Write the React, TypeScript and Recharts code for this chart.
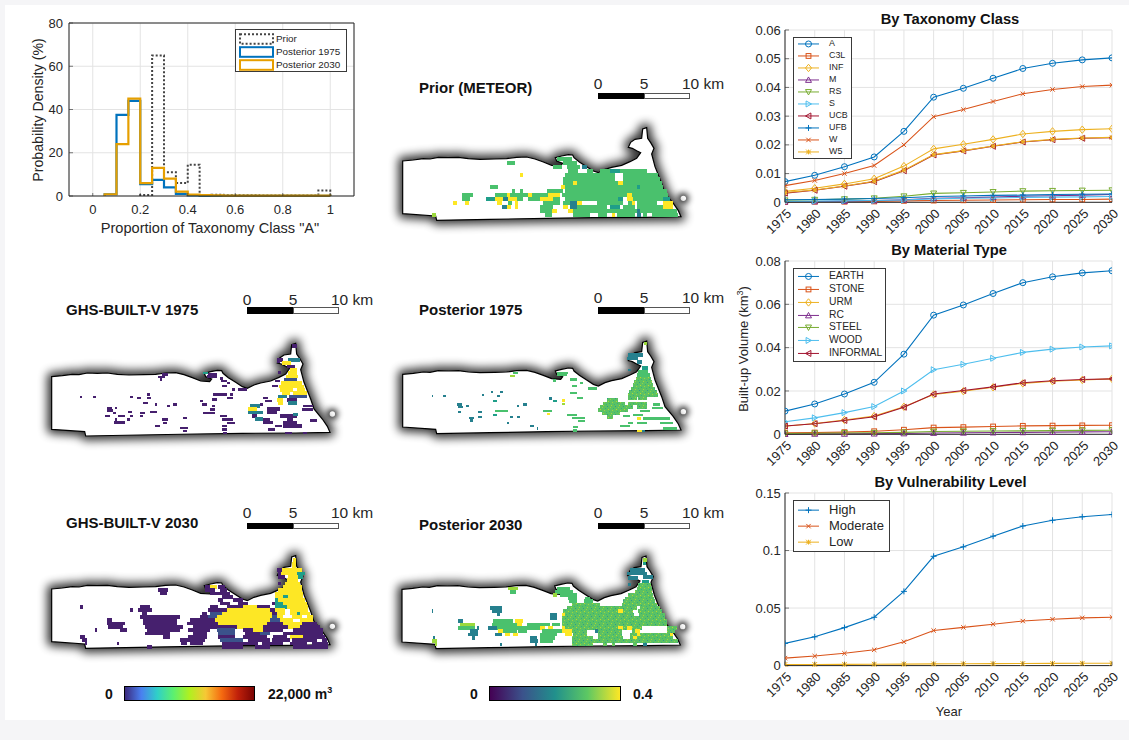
import React from 'react'
import {
  CartesianGrid,
  Line,
  LineChart,
  ReferenceLine,
  Scatter,
  ScatterChart,
  XAxis,
  YAxis,
} from 'recharts'

const FONT = '"Liberation Sans", Arial, sans-serif'
const INK = '#262626'
const GRID = '#e3e3e3'
const BLUE = '#0072BD'
const ORANGE = '#D95319'
const GOLD = '#EDB120'
const PURPLE = '#7E2F8E'
const GREEN = '#77AC30'
const SKY = '#4DBEEE'
const CRIMSON = '#A2142F'

// ---- line chart data
const years = [1975, 1980, 1985, 1990, 1995, 2000, 2005, 2010, 2015, 2020, 2025, 2030]

const taxA = [0.0072, 0.0094, 0.0124, 0.0158, 0.0247, 0.0366, 0.0397, 0.0432, 0.0466, 0.0484, 0.0496, 0.0503]
const taxC3L = [0.0001, 0.0002, 0.0002, 0.0003, 0.0005, 0.0006, 0.0007, 0.0008, 0.0009, 0.001, 0.001, 0.0011]
const taxINF = [0.0038, 0.0049, 0.0064, 0.0082, 0.0126, 0.0186, 0.0202, 0.0219, 0.0238, 0.0247, 0.0253, 0.0256]
const taxM = [0.0002, 0.0003, 0.0004, 0.0006, 0.0009, 0.0014, 0.0016, 0.0018, 0.0021, 0.0023, 0.0025, 0.0027]
const taxRS = [0.0007, 0.0009, 0.0011, 0.0014, 0.0021, 0.0031, 0.0033, 0.0036, 0.0039, 0.004, 0.0041, 0.0042]
const taxS = [0.0003, 0.0004, 0.0005, 0.0006, 0.0008, 0.0012, 0.0014, 0.0015, 0.0017, 0.0018, 0.0019, 0.002]
const taxUCB = [0.0032, 0.0042, 0.0056, 0.0072, 0.011, 0.0165, 0.0179, 0.0195, 0.021, 0.0218, 0.0223, 0.0225]
const taxUFB = [0.0009, 0.001, 0.0011, 0.0013, 0.0016, 0.002, 0.0022, 0.0024, 0.0025, 0.0027, 0.0028, 0.0029]
const taxW = [0.0058, 0.0076, 0.01, 0.0128, 0.02, 0.0298, 0.0323, 0.0351, 0.0378, 0.0393, 0.0403, 0.0408]
const taxW5 = [0.0034, 0.0043, 0.0057, 0.0073, 0.0112, 0.0166, 0.018, 0.0196, 0.0211, 0.0219, 0.0224, 0.0226]

const matEarth = [0.0107, 0.014, 0.0186, 0.024, 0.037, 0.055, 0.0597, 0.065, 0.07, 0.0727, 0.0745, 0.0755]
const matStone = [0.0007, 0.0008, 0.001, 0.0014, 0.0021, 0.0031, 0.0033, 0.0036, 0.0039, 0.004, 0.0041, 0.0042]
const matURM = [0.0037, 0.005, 0.0066, 0.0084, 0.0127, 0.0184, 0.0199, 0.0217, 0.0235, 0.0245, 0.0251, 0.0256]
const matRC = [0.0001, 0.0002, 0.0002, 0.0003, 0.0004, 0.0006, 0.0007, 0.0008, 0.0009, 0.001, 0.0011, 0.0012]
const matSteel = [0.0004, 0.0005, 0.0006, 0.0007, 0.0009, 0.0013, 0.0014, 0.0015, 0.0016, 0.0017, 0.0018, 0.0019]
const matWood = [0.0058, 0.0076, 0.01, 0.0128, 0.02, 0.0298, 0.0323, 0.0351, 0.0378, 0.0393, 0.0403, 0.0408]
const matInformal = [0.0038, 0.0049, 0.0064, 0.0081, 0.0125, 0.0186, 0.0202, 0.0219, 0.0238, 0.0247, 0.0253, 0.0256]

const vulnHigh = [0.0193, 0.025, 0.033, 0.042, 0.0645, 0.095, 0.1032, 0.1125, 0.1213, 0.1263, 0.1293, 0.1313]
const vulnModerate = [0.0065, 0.0083, 0.0107, 0.0137, 0.0207, 0.0305, 0.0332, 0.036, 0.0387, 0.0403, 0.0415, 0.042]
const vulnLow = [0.001, 0.001, 0.0011, 0.0012, 0.0013, 0.0015, 0.0016, 0.0017, 0.0018, 0.0019, 0.002, 0.0021]

const taxTicks = [0, 0.01, 0.02, 0.03, 0.04, 0.05, 0.06]
const matTicks = [0, 0.02, 0.04, 0.06, 0.08]
const vulnTicks = [0, 0.05, 0.1, 0.15]

type SeriesDef = { name: string; values: number[]; color: string; marker: string; size?: number }

const taxSeries: SeriesDef[] = [
  { name: 'A', values: taxA, color: BLUE, marker: 'circle' },
  { name: 'C3L', values: taxC3L, color: ORANGE, marker: 'square', size: 2.4 },
  { name: 'INF', values: taxINF, color: GOLD, marker: 'diamond' },
  { name: 'M', values: taxM, color: PURPLE, marker: 'up' },
  { name: 'RS', values: taxRS, color: GREEN, marker: 'down' },
  { name: 'S', values: taxS, color: SKY, marker: 'right' },
  { name: 'UCB', values: taxUCB, color: CRIMSON, marker: 'left' },
  { name: 'UFB', values: taxUFB, color: BLUE, marker: 'plus' },
  { name: 'W', values: taxW, color: ORANGE, marker: 'cross', size: 2.2 },
  { name: 'W5', values: taxW5, color: GOLD, marker: 'star', size: 2.4 },
]

const matSeries: SeriesDef[] = [
  { name: 'EARTH', values: matEarth, color: BLUE, marker: 'circle' },
  { name: 'STONE', values: matStone, color: ORANGE, marker: 'square', size: 2.4 },
  { name: 'URM', values: matURM, color: GOLD, marker: 'diamond' },
  { name: 'RC', values: matRC, color: PURPLE, marker: 'up' },
  { name: 'STEEL', values: matSteel, color: GREEN, marker: 'down' },
  { name: 'WOOD', values: matWood, color: SKY, marker: 'right' },
  { name: 'INFORMAL', values: matInformal, color: CRIMSON, marker: 'left' },
]

const vulnSeries: SeriesDef[] = [
  { name: 'High', values: vulnHigh, color: BLUE, marker: 'plus' },
  { name: 'Moderate', values: vulnModerate, color: ORANGE, marker: 'cross', size: 2.2 },
  { name: 'Low', values: vulnLow, color: GOLD, marker: 'star', size: 2.4 },
]

// ---- histogram data (one value per 0.05 wide bin, starting at binStart)
const priorStart = 0.2
const priorBins = [0.5, 65, 11, 6, 14.5, 0.5, 0.6, 0.4, 0.3, 0.3, 0.2, 0.2, 0.2, 0.2, 0.2, 2.5]
const post1975Start = 0.05
const post1975Bins = [0.8, 37.5, 44, 5.5, 7.5, 4, 1, 0.3, 0.1, 0.05, 0.05, 0.05, 0.05, 0.05, 0.05, 0.05, 0.05, 0.05, 0.05]
const post2030Start = 0.05
const post2030Bins = [0.8, 24, 45, 6, 13, 8, 2, 0.6, 0.4, 0.3, 0.2, 0.2, 0.2, 0.2, 0.2, 0.2, 0.2, 0.2, 0.2]
const histXTicks = [0, 0.2, 0.4, 0.6, 0.8, 1]
const histYTicks = [0, 20, 40, 60, 80]

// ---- map data, in units of 1/3 pixel, measured inside each map's frame
const coastline = [
  [68, 303], [100, 300], [130, 296], [150, 297], [175, 292], [205, 293], [235, 292], [265, 296], [300, 298],
  [345, 297], [380, 296], [410, 292], [440, 291], [465, 297], [490, 306], [515, 316], [542, 318], [548, 310],
  [530, 303], [526, 293], [545, 288], [565, 284], [578, 285], [582, 293], [598, 306], [620, 320], [640, 333],
  [655, 338], [675, 328], [695, 322], [725, 316], [750, 305], [770, 295], [782, 278], [770, 272], [757, 265],
  [745, 262], [752, 247], [765, 238], [785, 235], [788, 207], [800, 203], [803, 235], [812, 248], [822, 265],
  [815, 282], [825, 320], [845, 370], [855, 400], [880, 430], [895, 452], [903, 470], [800, 472], [640, 473],
  [500, 475], [330, 478], [170, 481], [167, 468], [68, 461], [68, 303],
]
const islet = [910, 415]

const shades: Record<string, string> = {
  P: '#46206e',
  B: '#3b528b',
  T: '#26808e',
  D: '#1f9e89',
  G: '#4ac16d',
  L: '#9bd93c',
  Y: '#fde725',
  W: '#ffffff',
  N: 'url(#speckle)',
}

type Span = [number, number, number, string]

const priorCells: Span[] = [
  [290, 530, 575, 'G'],
  [302, 382, 405, 'G'], [302, 550, 590, 'G'],
  [314, 520, 545, 'G'], [314, 560, 600, 'G'], [314, 605, 620, 'T'],
  [326, 565, 595, 'G'], [326, 620, 640, 'G'], [326, 660, 690, 'G'], [326, 690, 720, 'D'], [326, 720, 800, 'G'],
  [338, 420, 430, 'Y'], [338, 555, 705, 'G'], [338, 730, 835, 'G'],
  [350, 550, 705, 'G'], [350, 730, 840, 'G'],
  [362, 550, 578, 'G'], [362, 578, 592, 'Y'], [362, 592, 715, 'G'], [362, 715, 730, 'Y'], [362, 730, 845, 'G'],
  [374, 330, 355, 'G'], [374, 543, 555, 'Y'], [374, 555, 770, 'G'], [374, 770, 780, 'D'], [374, 780, 850, 'G'],
  [386, 395, 405, 'G'], [386, 420, 430, 'G'], [386, 500, 550, 'G'], [386, 555, 860, 'G'],
  [398, 245, 280, 'G'], [398, 345, 380, 'G'], [398, 380, 390, 'Y'], [398, 390, 445, 'G'], [398, 445, 455, 'Y'],
  [398, 455, 505, 'G'], [398, 505, 540, 'Y'], [398, 545, 740, 'G'], [398, 740, 755, 'Y'], [398, 755, 865, 'G'],
  [410, 245, 270, 'G'], [410, 318, 345, 'D'], [410, 345, 370, 'Y'], [410, 370, 385, 'T'], [410, 385, 410, 'Y'],
  [410, 410, 430, 'G'], [410, 445, 480, 'G'], [410, 480, 520, 'Y'], [410, 520, 540, 'G'], [410, 555, 715, 'G'],
  [410, 715, 730, 'D'], [410, 740, 760, 'Y'], [410, 760, 850, 'G'], [410, 850, 870, 'D'],
  [422, 220, 230, 'Y'], [422, 255, 268, 'Y'], [422, 350, 365, 'Y'], [422, 385, 395, 'G'], [422, 405, 415, 'Y'],
  [422, 490, 540, 'G'], [422, 550, 570, 'G'], [422, 570, 590, 'T'], [422, 590, 605, 'Y'], [422, 650, 730, 'G'],
  [422, 745, 755, 'G'], [422, 755, 765, 'Y'], [422, 770, 830, 'G'], [422, 850, 880, 'Y'],
  [434, 365, 380, 'T'], [434, 380, 392, 'Y'], [434, 405, 415, 'Y'], [434, 480, 520, 'G'], [434, 550, 565, 'Y'],
  [434, 570, 590, 'T'], [434, 590, 680, 'G'], [434, 690, 720, 'D'], [434, 730, 765, 'G'], [434, 770, 850, 'G'], [434, 850, 880, 'Y'],
  [446, 480, 515, 'G'], [446, 515, 530, 'Y'], [446, 565, 580, 'Y'], [446, 580, 770, 'G'], [446, 770, 780, 'T'], [446, 780, 890, 'G'],
  [458, 155, 168, 'L'], [458, 495, 515, 'G'], [458, 580, 630, 'G'], [458, 655, 680, 'G'], [458, 695, 705, 'Y'],
  [458, 710, 765, 'G'], [458, 770, 782, 'T'], [458, 790, 800, 'G'], [458, 815, 895, 'G'],
]

const ghs1975Mass: Span[] = [
  [162, 787, 800, 'P'], [204, 740, 760, 'P'], [204, 775, 810, 'T'], [214, 755, 782, 'Y'],
  [224, 770, 795, 'P'], [234, 780, 802, 'Y'], [244, 775, 802, 'Y'], [254, 768, 805, 'Y'],
  [264, 762, 802, 'B'], [274, 752, 815, 'Y'], [284, 748, 822, 'Y'], [294, 750, 790, 'Y'], [294, 800, 825, 'Y'],
  [304, 755, 780, 'Y'], [304, 790, 830, 'Y'], [314, 745, 772, 'T'], [314, 778, 830, 'B'], [324, 740, 760, 'Y'],
  [324, 770, 800, 'P'], [334, 745, 760, 'Y'], [334, 775, 800, 'T'], [342, 660, 690, 'T'], [352, 655, 680, 'Y'],
  [352, 710, 750, 'P'], [362, 655, 700, 'T'], [362, 710, 740, 'P'], [372, 665, 680, 'P'], [382, 675, 700, 'T'],
  [372, 750, 800, 'P'], [382, 770, 790, 'P'], [392, 700, 730, 'P'], [392, 760, 800, 'P'], [402, 760, 815, 'P'],
]
const ghs1975Specks: Span[] = [
  [212, 740, 750, 'P'], [244, 745, 752, 'P'], [270, 735, 750, 'P'], [284, 725, 745, 'P'],
  [250, 395, 415, 'P'], [258, 385, 405, 'P'], [265, 390, 396, 'P'],
  [246, 520, 535, 'D'], [248, 535, 560, 'P'], [256, 530, 560, 'P'], [262, 570, 580, 'P'], [270, 572, 592, 'P'],
  [285, 575, 590, 'P'], [276, 590, 600, 'P'], [295, 605, 615, 'P'], [295, 625, 650, 'P'],
  [318, 150, 157, 'P'], [318, 190, 197, 'P'], [318, 300, 308, 'P'], [320, 322, 332, 'P'], [320, 350, 362, 'P'],
  [310, 350, 360, 'P'], [335, 340, 355, 'P'], [340, 375, 381, 'P'], [350, 230, 245, 'P'], [358, 232, 250, 'P'],
  [350, 255, 262, 'P'], [365, 250, 258, 'P'], [362, 295, 305, 'P'], [375, 225, 240, 'P'], [375, 265, 285, 'P'],
  [385, 255, 262, 'P'], [394, 252, 285, 'P'], [385, 290, 300, 'P'], [375, 300, 310, 'P'], [365, 330, 345, 'P'],
  [362, 360, 380, 'P'], [375, 330, 340, 'P'], [345, 410, 420, 'P'], [340, 430, 440, 'P'], [330, 510, 520, 'P'],
  [340, 515, 530, 'P'], [345, 545, 555, 'P'], [355, 540, 555, 'P'], [365, 520, 555, 'P'], [380, 460, 470, 'P'],
  [385, 395, 415, 'P'], [395, 400, 410, 'P'], [405, 375, 390, 'P'], [410, 450, 475, 'P'], [420, 460, 470, 'P'],
  [425, 580, 590, 'P'], [375, 570, 590, 'P'], [385, 575, 610, 'P'], [395, 590, 615, 'P'], [405, 575, 590, 'P'],
  [415, 575, 590, 'P'], [310, 550, 590, 'P'], [325, 545, 560, 'P'], [310, 600, 610, 'P'], [320, 590, 610, 'P'],
  [320, 700, 715, 'P'], [330, 705, 725, 'P'], [340, 690, 700, 'P'], [345, 820, 850, 'P'], [355, 815, 850, 'P'],
  [370, 790, 805, 'T'], [385, 700, 720, 'P'], [405, 735, 755, 'P'], [415, 715, 735, 'P'], [425, 765, 785, 'P'],
  [425, 820, 830, 'P'], [388, 840, 860, 'P'],
]

const post1975Mass: Span[] = [
  [155, 792, 802, 'L'], [190, 745, 790, 'T'], [200, 740, 775, 'T'], [210, 770, 785, 'T'], [228, 785, 805, 'D'],
  [240, 775, 805, 'G'], [250, 770, 810, 'G'], [260, 768, 812, 'N'], [270, 762, 815, 'N'], [280, 758, 820, 'N'],
  [290, 752, 825, 'N'], [300, 748, 830, 'N'], [310, 745, 835, 'N'], [320, 745, 770, 'N'], [320, 775, 800, 'N'],
  [325, 680, 715, 'N'], [335, 670, 735, 'N'], [335, 745, 800, 'N'], [345, 660, 760, 'N'], [345, 770, 800, 'N'],
  [355, 655, 745, 'N'], [365, 665, 720, 'N'], [375, 680, 700, 'N'],
]
const post1975Specks: Span[] = [
  [236, 745, 752, 'T'], [245, 530, 565, 'G'], [252, 530, 560, 'G'], [245, 400, 415, 'G'], [255, 390, 405, 'L'], [265, 570, 590, 'G'],
  [268, 520, 528, 'G'], [285, 575, 590, 'G'], [275, 600, 610, 'G'], [292, 625, 650, 'G'],
  [315, 155, 160, 'T'], [315, 190, 197, 'T'], [312, 305, 312, 'T'], [302, 332, 340, 'T'], [302, 360, 368, 'T'],
  [315, 350, 360, 'T'], [330, 340, 352, 'D'], [340, 232, 245, 'T'], [348, 235, 248, 'T'], [345, 258, 266, 'T'],
  [362, 235, 242, 'T'], [362, 295, 305, 'T'], [360, 345, 385, 'G'], [380, 268, 282, 'T'], [388, 270, 280, 'T'],
  [378, 295, 305, 'T'], [372, 340, 350, 'D'], [345, 410, 418, 'T'], [340, 430, 440, 'T'], [322, 508, 515, 'T'],
  [330, 518, 530, 'D'], [328, 545, 555, 'Y'], [338, 545, 555, 'L'], [360, 490, 515, 'G'], [368, 500, 510, 'Y'],
  [378, 410, 420, 'T'], [378, 390, 400, 'T'], [395, 380, 388, 'T'], [405, 450, 462, 'T'], [412, 470, 475, 'T'],
  [372, 560, 590, 'G'], [380, 575, 615, 'G'], [390, 595, 615, 'G'], [408, 580, 595, 'G'], [418, 580, 590, 'G'],
  [320, 590, 610, 'G'], [305, 570, 590, 'G'],
  [375, 730, 750, 'G'], [340, 820, 840, 'G'], [350, 815, 850, 'G'], [360, 780, 810, 'G'], [372, 760, 790, 'G'],
  [382, 770, 782, 'Y'], [382, 790, 870, 'G'], [395, 745, 760, 'G'], [395, 770, 800, 'G'], [395, 840, 880, 'G'],
  [405, 720, 750, 'G'], [412, 850, 890, 'G'], [420, 770, 785, 'Y'], [420, 785, 795, 'T'],
]

const ghs2030Cells: Span[] = [
  [175, 788, 798, 'Y'], [185, 787, 797, 'Y'], [195, 785, 797, 'Y'],
  [205, 740, 755, 'P'], [205, 755, 815, 'Y'], [215, 745, 752, 'P'], [215, 752, 800, 'Y'], [215, 800, 825, 'D'],
  [225, 745, 765, 'P'], [225, 775, 805, 'Y'], [225, 805, 820, 'D'], [235, 770, 805, 'Y'], [245, 745, 752, 'P'], [245, 765, 810, 'Y'],
  [255, 525, 540, 'P'], [255, 540, 560, 'Y'], [255, 565, 585, 'P'], [255, 760, 815, 'Y'],
  [265, 385, 415, 'P'], [265, 525, 555, 'P'], [265, 570, 590, 'P'], [265, 745, 815, 'Y'],
  [275, 390, 410, 'P'], [275, 540, 600, 'P'], [275, 735, 820, 'Y'],
  [285, 575, 610, 'P'], [285, 735, 760, 'Y'], [285, 760, 775, 'D'], [285, 775, 820, 'Y'],
  [295, 565, 580, 'P'], [295, 610, 640, 'P'], [295, 735, 745, 'D'], [295, 745, 825, 'Y'],
  [305, 570, 600, 'P'], [305, 625, 655, 'P'], [305, 725, 735, 'P'], [305, 735, 760, 'D'], [305, 760, 830, 'Y'],
  [315, 150, 158, 'P'], [315, 330, 360, 'P'], [315, 540, 565, 'P'], [315, 590, 640, 'P'], [315, 640, 680, 'Y'], [315, 680, 720, 'P'], [315, 735, 770, 'D'], [315, 770, 835, 'Y'],
  [325, 300, 310, 'P'], [325, 325, 365, 'P'], [325, 535, 590, 'P'], [325, 590, 720, 'Y'], [325, 720, 735, 'P'], [325, 735, 765, 'Y'], [325, 780, 835, 'Y'],
  [335, 335, 350, 'P'], [335, 515, 530, 'P'], [335, 540, 575, 'B'], [335, 575, 725, 'Y'], [335, 725, 740, 'P'], [335, 740, 765, 'Y'], [335, 780, 800, 'Y'], [335, 800, 810, 'D'], [335, 810, 840, 'Y'],
  [345, 330, 450, 'P'], [345, 510, 535, 'P'], [345, 535, 560, 'B'], [345, 560, 725, 'Y'], [345, 725, 740, 'B'], [345, 740, 760, 'Y'], [345, 785, 815, 'Y'], [345, 830, 850, 'Y'],
  [355, 230, 245, 'P'], [355, 340, 440, 'P'], [355, 480, 555, 'P'], [355, 555, 720, 'Y'], [355, 720, 750, 'B'], [355, 750, 790, 'Y'], [355, 810, 850, 'Y'],
  [365, 230, 285, 'P'], [365, 340, 440, 'P'], [365, 470, 565, 'P'], [365, 565, 710, 'Y'], [365, 710, 760, 'P'], [365, 760, 815, 'Y'], [365, 815, 860, 'P'],
  [375, 235, 280, 'P'], [375, 345, 460, 'P'], [375, 490, 620, 'P'], [375, 620, 700, 'Y'], [375, 700, 775, 'P'], [375, 775, 810, 'Y'], [375, 810, 870, 'P'],
  [385, 195, 200, 'P'], [385, 270, 290, 'P'], [385, 350, 450, 'P'], [385, 475, 540, 'P'], [385, 560, 615, 'B'], [385, 640, 670, 'P'], [385, 670, 700, 'Y'], [385, 700, 760, 'P'], [385, 790, 880, 'P'],
  [395, 345, 420, 'P'], [395, 490, 530, 'P'], [395, 565, 615, 'B'], [395, 645, 690, 'P'], [395, 690, 720, 'B'], [395, 760, 880, 'P'],
  [405, 150, 165, 'P'], [405, 400, 420, 'P'], [405, 475, 530, 'P'], [405, 565, 615, 'P'], [405, 640, 710, 'P'], [405, 730, 770, 'P'], [405, 780, 820, 'Y'], [405, 820, 885, 'P'],
  [415, 155, 170, 'P'], [415, 450, 525, 'P'], [415, 570, 640, 'B'], [415, 655, 720, 'P'], [415, 725, 780, 'P'], [415, 785, 860, 'P'], [415, 875, 890, 'P'],
  [425, 165, 170, 'P'], [425, 260, 268, 'P'], [425, 452, 470, 'P'], [425, 480, 520, 'P'], [425, 575, 685, 'P'], [425, 695, 760, 'P'], [425, 780, 830, 'P'], [425, 845, 895, 'P'],
  [435, 352, 366, 'P'], [435, 575, 640, 'P'], [435, 675, 720, 'P'], [435, 790, 895, 'P'],
]

const post2030Cells: Span[] = [
  [175, 790, 800, 'L'], [185, 790, 798, 'D'], [205, 750, 795, 'T'], [215, 740, 800, 'T'], [225, 790, 820, 'T'], [228, 745, 775, 'T'],
  [240, 785, 808, 'D'], [248, 745, 752, 'T'], [250, 775, 812, 'N'], [260, 530, 570, 'G'], [260, 385, 415, 'L'], [260, 770, 815, 'N'],
  [270, 525, 580, 'G'], [270, 390, 408, 'G'], [270, 765, 815, 'N'], [280, 520, 530, 'L'], [280, 540, 590, 'G'], [280, 745, 820, 'N'],
  [290, 565, 590, 'G'], [290, 615, 630, 'G'], [290, 735, 822, 'N'], [298, 568, 590, 'G'], [298, 612, 640, 'G'], [298, 730, 825, 'N'],
  [308, 575, 660, 'N'], [308, 725, 830, 'N'], [318, 330, 365, 'T'], [318, 560, 770, 'N'], [318, 780, 840, 'N'],
  [328, 155, 160, 'T'], [328, 335, 365, 'T'], [328, 550, 715, 'N'], [328, 715, 728, 'Y'], [328, 728, 760, 'N'], [328, 775, 845, 'N'],
  [338, 350, 360, 'T'], [338, 510, 530, 'T'], [338, 545, 555, 'Y'], [338, 555, 762, 'N'], [338, 778, 855, 'N'],
  [348, 510, 530, 'T'], [348, 545, 855, 'N'], [358, 235, 250, 'T'], [358, 340, 400, 'G'], [358, 405, 430, 'Y'], [358, 545, 860, 'N'],
  [368, 240, 285, 'L'], [368, 335, 410, 'G'], [368, 410, 425, 'Y'], [368, 440, 510, 'G'], [368, 515, 540, 'G'], [368, 545, 860, 'N'],
  [378, 235, 285, 'G'], [378, 290, 298, 'T'], [378, 325, 350, 'T'], [378, 350, 480, 'G'], [378, 480, 495, 'Y'], [378, 505, 520, 'Y'],
  [378, 545, 555, 'Y'], [378, 555, 715, 'N'], [378, 715, 730, 'Y'], [378, 730, 740, 'N'], [378, 740, 755, 'Y'], [378, 755, 785, 'N'], [378, 860, 890, 'N'],
  [388, 270, 295, 'T'], [388, 355, 370, 'Y'], [388, 370, 410, 'G'], [388, 415, 440, 'G'], [388, 485, 545, 'G'], [388, 545, 575, 'Y'], [388, 575, 620, 'N'], [388, 645, 655, 'T'], [388, 655, 725, 'N'], [388, 755, 765, 'N'], [388, 765, 780, 'Y'], [388, 860, 885, 'N'],
  [398, 265, 295, 'T'], [398, 345, 365, 'T'], [398, 375, 390, 'Y'], [398, 400, 415, 'Y'], [398, 480, 530, 'G'], [398, 555, 575, 'Y'], [398, 580, 620, 'N'], [398, 655, 725, 'N'], [398, 750, 770, 'N'], [398, 770, 780, 'Y'], [398, 780, 870, 'N'], [398, 870, 880, 'Y'],
  [408, 160, 166, 'T'], [408, 275, 285, 'T'], [408, 450, 470, 'T'], [408, 480, 525, 'G'], [408, 575, 640, 'N'], [408, 655, 730, 'N'], [408, 750, 760, 'N'], [408, 760, 770, 'Y'], [408, 770, 880, 'N'],
  [418, 155, 170, 'L'], [418, 450, 475, 'T'], [418, 480, 520, 'G'], [418, 575, 895, 'N'],
  [428, 165, 172, 'L'], [428, 360, 366, 'T'], [428, 465, 470, 'T'], [428, 575, 640, 'N'], [428, 670, 680, 'N'], [428, 695, 705, 'N'], [428, 760, 770, 'N'], [428, 790, 800, 'T'],
]

const turboStops = ['#3b2a7e', '#4a7ff0', '#2fd0c8', '#5cf070', '#b0f020', '#f6c835', '#f56a10', '#c0200a', '#7a0403']
const viridisStops = ['#440154', '#3b528b', '#21908c', '#5dc863', '#fde725']

// ---- markers
const Marker = ({ cx, cy, type, color, size = 3 }: { cx: number; cy: number; type: string; color: string; size?: number }) => {
  const s = size
  const common = { fill: 'none', stroke: color, strokeWidth: 1 }
  const tri = (pts: number[][]) => (
    <polygon {...common} points={pts.map(([a, b]) => `${cx + a},${cy + b}`).join(' ')} />
  )
  if (type === 'circle') return <circle cx={cx} cy={cy} r={s} {...common} />
  if (type === 'square') return <rect x={cx - s} y={cy - s} width={2 * s} height={2 * s} {...common} />
  if (type === 'diamond') return tri([[0, -s - 0.7], [s, 0], [0, s + 0.7], [-s, 0]])
  if (type === 'up') return tri([[0, -s], [s, s * 0.8], [-s, s * 0.8]])
  if (type === 'down') return tri([[0, s], [s, -s * 0.8], [-s, -s * 0.8]])
  if (type === 'right') return tri([[s, 0], [-s * 0.8, s], [-s * 0.8, -s]])
  if (type === 'left') return tri([[-s, 0], [s * 0.8, s], [s * 0.8, -s]])
  const plus = <path d={`M${cx - s} ${cy}H${cx + s}M${cx} ${cy - s}V${cy + s}`} {...common} />
  const cross = <path d={`M${cx - s} ${cy - s}L${cx + s} ${cy + s}M${cx - s} ${cy + s}L${cx + s} ${cy - s}`} {...common} />
  if (type === 'plus') return plus
  if (type === 'cross') return cross
  return (
    <g>
      {plus}
      {cross}
    </g>
  )
}

// ---- ticks, inward like the original axes
const YTick = ({ x, y, payload, gap = 4.3 }: any) => (
  <g>
    <line x1={x} x2={x + 4} y1={y} y2={y} stroke={INK} strokeWidth={0.6} />
    <text x={x - gap} y={y + 4.6} textAnchor="end" fontSize={13} fontFamily={FONT} fill={INK}>
      {String(payload.value)}
    </text>
  </g>
)

const YearTick = ({ x, y, payload }: any) => (
  <g>
    <line x1={x} x2={x} y1={y} y2={y - 4} stroke={INK} strokeWidth={0.6} />
    <text
      x={x + 7}
      y={y + 12}
      textAnchor="end"
      fontSize={13}
      fontFamily={FONT}
      fill={INK}
      transform={`rotate(-45 ${x + 7} ${y + 12})`}
    >
      {payload.value}
    </text>
  </g>
)

const HistXTick = ({ x, y, payload }: any) => (
  <g>
    <line x1={x} x2={x} y1={y} y2={y - 3} stroke={INK} strokeWidth={0.6} />
    <text x={x} y={y + 18} textAnchor="middle" fontSize={13} fontFamily={FONT} fill={INK}>
      {String(payload.value)}
    </text>
  </g>
)

// ---- legend box for the line panels
const SeriesLegend = ({
  series,
  left,
  top,
  width,
  rowHeight,
  fontSize,
  textLeft,
}: {
  series: SeriesDef[]
  left: number
  top: number
  width: number
  rowHeight: number
  fontSize: number
  textLeft: number
}) => (
  <div
    style={{
      position: 'absolute',
      left,
      top,
      width,
      height: rowHeight * series.length + 3.2,
      background: '#fff',
      border: '1px solid #3a3a3a',
      boxSizing: 'border-box',
      fontFamily: FONT,
      fontSize,
      color: INK,
    }}
  >
    {series.map((s, i) => (
      <div key={s.name} style={{ position: 'absolute', left: 0, top: 0.6 + i * rowHeight, height: rowHeight, width: '100%' }}>
        <svg width={30} height={rowHeight} style={{ position: 'absolute', left: 4, top: 0 }}>
          <line x1={0} x2={21} y1={rowHeight / 2} y2={rowHeight / 2} stroke={s.color} strokeWidth={1} />
          <Marker cx={10.5} cy={rowHeight / 2} type={s.marker} color={s.color} size={s.size} />
        </svg>
        <span style={{ position: 'absolute', left: textLeft, top: 0, lineHeight: `${rowHeight}px` }}>{s.name}</span>
      </div>
    ))}
  </div>
)

// ---- one of the three panels on the right
const TrendPanel = ({
  top,
  height,
  series,
  yMax,
  yTicks,
}: {
  top: number
  height: number
  series: SeriesDef[]
  yMax: number
  yTicks: number[]
}) => {
  const rows = years.map((year, i) => {
    const row: Record<string, number> = { year }
    series.forEach((s) => {
      row[s.name] = s.values[i]
    })
    return row
  })
  return (
    <div style={{ position: 'absolute', left: 735, top: top - 12, width: 394, height: height + 52 }}>
      <LineChart width={394} height={height + 52} data={rows} margin={{ top: 12, right: 17, left: 0, bottom: 0 }}>
        <CartesianGrid stroke={GRID} strokeWidth={1} />
        <XAxis
          dataKey="year"
          type="number"
          domain={[1975, 2030]}
          ticks={years}
          height={40}
          interval={0}
          tick={<YearTick />}
          tickLine={false}
          tickSize={0}
          tickMargin={0}
          stroke={INK}
          allowDataOverflow
        />
        <YAxis
          type="number"
          domain={[0, yMax]}
          ticks={yTicks}
          width={50}
          interval={0}
          tick={<YTick />}
          tickLine={false}
          tickSize={0}
          tickMargin={0}
          stroke={INK}
        />
        {series.map((s) => (
          <Line
            key={s.name}
            dataKey={s.name}
            stroke={s.color}
            strokeWidth={1.1}
            isAnimationActive={false}
            dot={(p: any) => <Marker key={p.index} cx={p.cx} cy={p.cy} type={s.marker} color={s.color} size={s.size} />}
          />
        ))}
      </LineChart>
    </div>
  )
}

// ---- histogram on the top left
const stairs = (start: number, bins: number[]) => {
  const out = [{ x: start, y: 0 }]
  bins.forEach((v, i) => out.push({ x: +(start + i * 0.05).toFixed(2), y: v }))
  out.push({ x: +(start + bins.length * 0.05).toFixed(2), y: 0 })
  return out
}

const HistPanel = () => (
  <div style={{ position: 'absolute', left: 19, top: 13, width: 345 }}>
    <LineChart width={345} height={213} margin={{ top: 10, right: 10, left: 0, bottom: 0 }}>
      <CartesianGrid stroke={GRID} strokeWidth={1} />
      <XAxis
        dataKey="x"
        type="number"
        domain={[-0.1, 1.1]}
        ticks={histXTicks}
        height={30}
        interval={0}
        tick={<HistXTick />}
        tickLine={false}
        tickSize={0}
        tickMargin={0}
        stroke={INK}
        allowDataOverflow
      />
      <YAxis
        dataKey="y"
        type="number"
        domain={[0, 80]}
        ticks={histYTicks}
        width={50}
        interval={0}
        tick={<YTick gap={6} />}
        tickLine={false}
        tickSize={0}
        tickMargin={0}
        stroke={INK}
      />
      <ReferenceLine y={80} stroke={INK} strokeWidth={1} />
      <ReferenceLine x={1.1} stroke={INK} strokeWidth={1} />
      <Line
        data={stairs(priorStart, priorBins)}
        dataKey="y"
        type="stepAfter"
        stroke="#444"
        strokeWidth={2}
        strokeDasharray="2 2"
        dot={false}
        isAnimationActive={false}
      />
      <Line
        data={stairs(post1975Start, post1975Bins)}
        dataKey="y"
        type="stepAfter"
        stroke={BLUE}
        strokeWidth={2.2}
        dot={false}
        isAnimationActive={false}
      />
      <Line
        data={stairs(post2030Start, post2030Bins)}
        dataKey="y"
        type="stepAfter"
        stroke={'#E69F00'}
        strokeWidth={2.2}
        dot={false}
        isAnimationActive={false}
      />
    </LineChart>
  </div>
)

const HistLegend = () => {
  const rows = [
    { name: 'Prior', color: '#444', dash: '2 2', y: 9 },
    { name: 'Posterior 1975', color: BLUE, dash: undefined, y: 22 },
    { name: 'Posterior 2030', color: '#E69F00', dash: undefined, y: 35 },
  ]
  return (
    <div
      style={{
        position: 'absolute',
        left: 235,
        top: 29,
        width: 112,
        height: 43,
        background: '#fff',
        border: '1px solid #3a3a3a',
        boxSizing: 'border-box',
        fontFamily: FONT,
        fontSize: 9.9,
        color: INK,
      }}
    >
      {rows.map((r) => (
        <React.Fragment key={r.name}>
          <svg width={40} height={12} style={{ position: 'absolute', left: 3, top: r.y - 6 }}>
            <rect x={1} y={1.2} width={33} height={9.6} fill="none" stroke={r.color} strokeWidth={2} strokeDasharray={r.dash} />
          </svg>
          <span style={{ position: 'absolute', left: 40, top: r.y - 6, lineHeight: '12px', whiteSpace: 'nowrap' }}>{r.name}</span>
        </React.Fragment>
      ))}
    </div>
  )
}

// ---- maps: spans are drawn through hidden numeric axes in a ScatterChart
const noDot = () => <g />

const SpanShape = (cellHeight: number) => (p: any) => (
  <rect
    x={p.cx}
    y={p.cy}
    width={p.payload.w / 3}
    height={cellHeight / 3 + 0.35}
    fill={shades[p.payload.c]}
    shapeRendering="crispEdges"
  />
)

const LandShape = (p: any) => {
  const pts = p.points.map((a: any) => `${a.x},${a.y}`).join(' ')
  return (
    <g>
      <polygon points={pts} fill="#000" stroke="#000" strokeWidth={9} strokeLinejoin="round" opacity={0.8} style={{ filter: 'blur(5px)' }} />
      <polygon points={pts} fill="#fff" stroke="#000" strokeWidth={1.2} />
    </g>
  )
}

const IsletShape = (p: any) => (
  <g>
    <circle cx={p.cx} cy={p.cy} r={5.5} fill="#000" opacity={0.85} style={{ filter: 'blur(3px)' }} />
    <circle cx={p.cx} cy={p.cy} r={2.7} fill="#fff" />
  </g>
)

const toPoints = (cells: Span[]) => cells.map(([y, x0, x1, c]) => ({ x: x0, y, w: x1 - x0, c }))

const MapPanel = ({
  left,
  top,
  shiftX,
  shiftY,
  cells,
  cellHeight,
  specks = [],
}: {
  left: number
  top: number
  shiftX: number
  shiftY: number
  cells: Span[]
  cellHeight: number
  specks?: Span[]
}) => {
  const land = coastline.map(([x, y]) => ({ x: x + shiftX, y: y + shiftY }))
  const isletPoint = [{ x: islet[0] + shiftX, y: islet[1] + shiftY }]
  return (
    <div style={{ position: 'absolute', left, top, width: 350, height: 180 }}>
      <ScatterChart width={350} height={180} margin={{ top: 0, right: 0, bottom: 0, left: 0 }}>
        <XAxis dataKey="x" type="number" domain={[0, 1050]} hide allowDataOverflow />
        <YAxis dataKey="y" type="number" domain={[0, 540]} reversed hide allowDataOverflow />
        <Scatter data={isletPoint} shape={IsletShape} isAnimationActive={false} />
        <Scatter data={land} line={LandShape} shape={noDot} isAnimationActive={false} />
        <Scatter data={toPoints(cells)} shape={SpanShape(cellHeight)} isAnimationActive={false} />
        <Scatter data={toPoints(specks)} shape={SpanShape(6)} isAnimationActive={false} />
      </ScatterChart>
    </div>
  )
}

const Txt = ({ x, y, size = 15, bold = false, anchor = 'left', children }: any) => (
  <div
    style={{
      position: 'absolute',
      left: anchor === 'center' ? x - 200 : x,
      top: y - 10,
      width: anchor === 'center' ? 400 : undefined,
      textAlign: anchor === 'center' ? 'center' : 'left',
      lineHeight: '20px',
      fontFamily: FONT,
      fontSize: size,
      fontWeight: bold ? 700 : 400,
      color: bold ? '#111' : INK,
      whiteSpace: 'nowrap',
    }}
  >
    {children}
  </div>
)

const ScaleBar = ({ x, barTop, textY }: { x: number; barTop: number; textY: number }) => (
  <>
    <div style={{ position: 'absolute', left: x, top: barTop, width: 46, height: 6.5, background: '#000' }} />
    <div
      style={{
        position: 'absolute',
        left: x + 46,
        top: barTop,
        width: 46,
        height: 6.5,
        background: '#fff',
        border: '1px solid #555',
        boxSizing: 'border-box',
      }}
    />
    <Txt x={x} y={textY} size={15.5} anchor="center">0</Txt>
    <Txt x={x + 46} y={textY} size={15.5} anchor="center">5</Txt>
    <Txt x={x + 84} y={textY} size={15.5}>10 km</Txt>
  </>
)

const ColorBar = ({ x, width, stops }: { x: number; width: number; stops: string[] }) => (
  <div
    style={{
      position: 'absolute',
      left: x,
      top: 686,
      width,
      height: 15,
      boxSizing: 'border-box',
      border: '1px solid #000',
      background: `linear-gradient(to right, ${stops.join(',')})`,
    }}
  />
)

export default function App() {
  return (
    <div style={{ position: 'absolute', left: 0, top: 0, width: 1129, height: 740, background: '#f5f5f7', overflow: 'hidden' }}>
      <div style={{ position: 'absolute', left: 5, top: 5, width: 1124, height: 715, background: '#fff' }} />

      {/* hidden defs: pixel noise for the posterior maps */}
      <svg width={0} height={0} style={{ position: 'absolute' }}>
        <defs>
          <pattern id="speckle" width={8} height={8} patternUnits="userSpaceOnUse" shapeRendering="crispEdges">
            <rect width={8} height={8} fill="#5cc163" />
            <rect x={0} y={0} width={1} height={1} fill="#9bd93c" />
            <rect x={5} y={1} width={1} height={1} fill="#2fb47c" />
            <rect x={2} y={2} width={1} height={1} fill="#35b779" />
            <rect x={7} y={3} width={1} height={1} fill="#a8db34" />
            <rect x={3} y={4} width={1} height={1} fill="#2a9d8f" />
            <rect x={6} y={5} width={1} height={1} fill="#8fd744" />
            <rect x={1} y={6} width={1} height={1} fill="#2fb47c" />
            <rect x={4} y={7} width={1} height={1} fill="#b5de2b" />
          </pattern>
        </defs>
      </svg>

      {/* histogram */}
      <HistPanel />
      <HistLegend />
      <Txt x={210} y={228} size={14.6} anchor="center">Proportion of Taxonomy Class "A"</Txt>
      <div
        style={{
          position: 'absolute',
          left: 38 - 100,
          top: 110 - 10,
          width: 200,
          textAlign: 'center',
          lineHeight: '20px',
          transform: 'rotate(-90deg)',
          fontFamily: FONT,
          fontSize: 14.2,
          color: INK,
        }}
      >
        Probability Density (%)
      </div>

      {/* maps */}
      <MapPanel left={380} top={60} shiftX={0} shiftY={0} cells={priorCells} cellHeight={12} />
      <MapPanel left={30} top={290} shiftX={-3} shiftY={-43} cells={ghs1975Mass} cellHeight={10} specks={ghs1975Specks} />
      <MapPanel left={380} top={290} shiftX={0} shiftY={-50} cells={post1975Mass} cellHeight={10} specks={post1975Specks} />
      <MapPanel left={30} top={500} shiftX={-3} shiftY={-36} cells={ghs2030Cells} cellHeight={10} />
      <MapPanel left={380} top={500} shiftX={-2} shiftY={-35} cells={post2030Cells} cellHeight={10} />

      <Txt x={419} y={88} bold>Prior (METEOR)</Txt>
      <Txt x={66} y={310} bold>GHS-BUILT-V 1975</Txt>
      <Txt x={419} y={310} bold>Posterior 1975</Txt>
      <Txt x={66} y={523} bold>GHS-BUILT-V 2030</Txt>
      <Txt x={419} y={525} bold>Posterior 2030</Txt>

      <ScaleBar x={598} barTop={92.7} textY={84} />
      <ScaleBar x={247} barTop={307} textY={300} />
      <ScaleBar x={598} barTop={307} textY={298} />
      <ScaleBar x={247} barTop={522.5} textY={513} />
      <ScaleBar x={598} barTop={522.5} textY={513} />

      <ColorBar x={124} width={131} stops={turboStops} />
      <ColorBar x={489} width={132} stops={viridisStops} />
      <Txt x={109} y={694} size={14} bold anchor="center">0</Txt>
      <Txt x={268} y={694} size={14} bold>22,000 m<sup style={{ fontSize: 9, lineHeight: 0 }}>3</sup></Txt>
      <Txt x={474} y={694} size={14} bold anchor="center">0</Txt>
      <Txt x={633} y={694} size={14} bold>0.4</Txt>

      {/* right hand panels */}
      <TrendPanel top={30} height={172.3} series={taxSeries} yMax={0.06} yTicks={taxTicks} />
      <TrendPanel top={260.7} height={173.3} series={matSeries} yMax={0.08} yTicks={matTicks} />
      <TrendPanel top={492.7} height={172.6} series={vulnSeries} yMax={0.15} yTicks={vulnTicks} />

      <SeriesLegend series={taxSeries} left={793} top={36.7} width={59} rowHeight={11.93} fontSize={8.9} textLeft={35} />
      <SeriesLegend series={matSeries} left={793} top={268.3} width={93} rowHeight={12.9} fontSize={10.3} textLeft={35} />
      <SeriesLegend series={vulnSeries} left={793} top={500} width={97} rowHeight={16.3} fontSize={13} textLeft={35} />

      <Txt x={950} y={19} size={14.7} bold anchor="center">By Taxonomy Class</Txt>
      <Txt x={949} y={250} size={14.7} bold anchor="center">By Material Type</Txt>
      <Txt x={950.5} y={482} size={14.7} bold anchor="center">By Vulnerability Level</Txt>
      <Txt x={949} y={712} size={13} anchor="center">Year</Txt>
      <div
        style={{
          position: 'absolute',
          left: 744 - 100,
          top: 349 - 10,
          width: 200,
          textAlign: 'center',
          lineHeight: '20px',
          transform: 'rotate(-90deg)',
          fontFamily: FONT,
          fontSize: 13,
          color: INK,
        }}
      >
        Built-up Volume (km<sup style={{ fontSize: 9, lineHeight: 0 }}>3</sup>)
      </div>
    </div>
  )
}
